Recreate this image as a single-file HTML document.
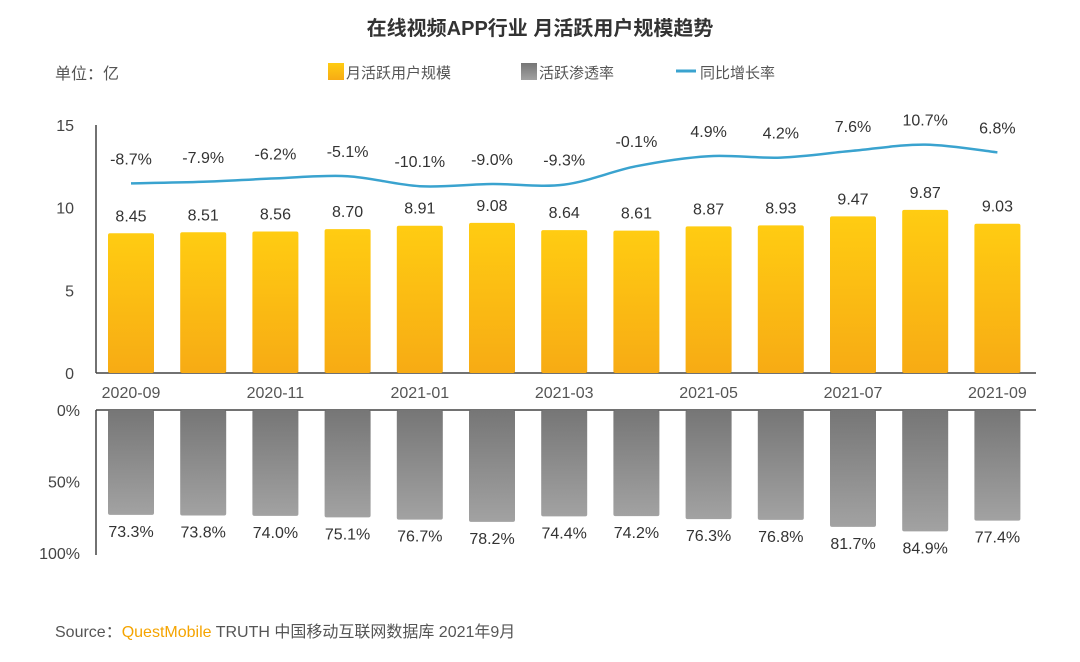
<!DOCTYPE html>
<html><head><meta charset="utf-8"><style>
body{margin:0;background:#fff;width:1080px;height:657px;overflow:hidden;font-family:"Liberation Sans","Noto Sans CJK SC",sans-serif}
svg text{font-family:"Liberation Sans","Noto Sans CJK SC",sans-serif}
</style></head><body>
<svg width="1080" height="657">
<defs>
<linearGradient id="gy" x1="0" y1="0" x2="0" y2="1"><stop offset="0" stop-color="#ffcc12"/><stop offset="1" stop-color="#f7ab14"/></linearGradient>
<linearGradient id="gg" x1="0" y1="0" x2="0" y2="1"><stop offset="0" stop-color="#767676"/><stop offset="1" stop-color="#a2a2a2"/></linearGradient>
</defs>
<text x="540" y="35" text-anchor="middle" font-size="20" font-weight="bold" fill="#333">在线视频APP行业 月活跃用户规模趋势</text>
<text x="55" y="79" font-size="16" fill="#555">单位：亿</text>
<g>
<rect x="328" y="63" width="16" height="17" fill="url(#gy)"/>
<text x="346" y="78" font-size="15" fill="#555">月活跃用户规模</text>
<rect x="521" y="63" width="16" height="17" fill="url(#gg)"/>
<text x="539" y="78" font-size="15" fill="#555">活跃渗透率</text>
<line x1="676" y1="71" x2="696" y2="71" stroke="#3aa3cf" stroke-width="3"/>
<text x="700" y="78" font-size="15" fill="#555">同比增长率</text>
</g>
<g id="g"></g>
<text x="55" y="637" font-size="16" fill="#555">Source：<tspan fill="#f5a400">QuestMobile</tspan> TRUTH 中国移动互联网数据库 2021年9月</text>
</svg>
<script>
const categories=["2020-09","2020-10","2020-11","2020-12","2021-01","2021-02","2021-03","2021-04","2021-05","2021-06","2021-07","2021-08","2021-09"];
const mau=[8.45,8.51,8.56,8.70,8.91,9.08,8.64,8.61,8.87,8.93,9.47,9.87,9.03];
const growth=[-8.7,-7.9,-6.2,-5.1,-10.1,-9.0,-9.3,-0.1,4.9,4.2,7.6,10.7,6.8];
const penetration=[73.3,73.8,74.0,75.1,76.7,78.2,74.4,74.2,76.3,76.8,81.7,84.9,77.4];
const yTicks=[0,5,10,15];
const pTicks=[0,50,100];
const NS="http://www.w3.org/2000/svg";
const g=document.getElementById('g');
function mk(t,a,txt){const e=document.createElementNS(NS,t);for(const k in a)e.setAttribute(k,a[k]);if(txt!=null)e.textContent=txt;g.appendChild(e);return e;}
const xC=i=>131+i*72.2;
const yV=v=>373-v*(248/15);
const yG=v=>166-v*2.0;
const yP=v=>410+v/100*143;
// axes
let e=mk('line',{x1:96,y1:125,x2:96,y2:373,stroke:'#444','stroke-width':1.5});

e=mk('line',{x1:96,y1:373,x2:1036,y2:373,stroke:'#444','stroke-width':1.5});

e=mk('line',{x1:96,y1:410,x2:1036,y2:410,stroke:'#444','stroke-width':1.5});

e=mk('line',{x1:96,y1:410,x2:96,y2:555,stroke:'#444','stroke-width':1.5});

yTicks.forEach(v=>{const t=mk('text',{x:74,y:yV(v)+6,'text-anchor':'end','font-size':16,fill:'#444'},String(v));
});
pTicks.forEach(v=>{const t=mk('text',{x:80,y:yP(v)+6,'text-anchor':'end','font-size':16,fill:'#444'},v+'%');
});
categories.forEach((c,i)=>{
 const x=xC(i);
 let r=mk('rect',{x:x-23,y:yV(mau[i]),width:46,height:373-yV(mau[i]),rx:2,fill:'url(#gy)'});
 
 let t=mk('text',{x:x,y:yV(mau[i])-12,'text-anchor':'middle','font-size':16,fill:'#333'},mau[i].toFixed(2));
 
 r=mk('rect',{x:x-23,y:410,width:46,height:yP(penetration[i])-410,rx:2,fill:'url(#gg)'});
 
 t=mk('text',{x:x,y:yP(penetration[i])+22,'text-anchor':'middle','font-size':16,fill:'#333'},penetration[i].toFixed(1)+'%');
 
 t=mk('text',{x:x,y:yG(growth[i])-19,'text-anchor':'middle','font-size':16,fill:'#333'},growth[i].toFixed(1)+'%');
 
 if(i%2===0){t=mk('text',{x:x,y:398,'text-anchor':'middle','font-size':16,fill:'#555'},c);
 }
});
// smooth line
const pts=growth.map((v,i)=>[xC(i),yG(v)]);
let d='M'+pts[0][0]+','+pts[0][1];
for(let i=0;i<pts.length-1;i++){const p0=pts[Math.max(0,i-1)],p1=pts[i],p2=pts[i+1],p3=pts[Math.min(pts.length-1,i+2)];
 const c1=[p1[0]+(p2[0]-p0[0])/6,p1[1]+(p2[1]-p0[1])/6],c2=[p2[0]-(p3[0]-p1[0])/6,p2[1]-(p3[1]-p1[1])/6];
 d+=` C${c1[0]},${c1[1]} ${c2[0]},${c2[1]} ${p2[0]},${p2[1]}`;}
const l=mk('path',{d:d,fill:'none',stroke:'#3aa3cf','stroke-width':2.5});


</script>
</body></html>
